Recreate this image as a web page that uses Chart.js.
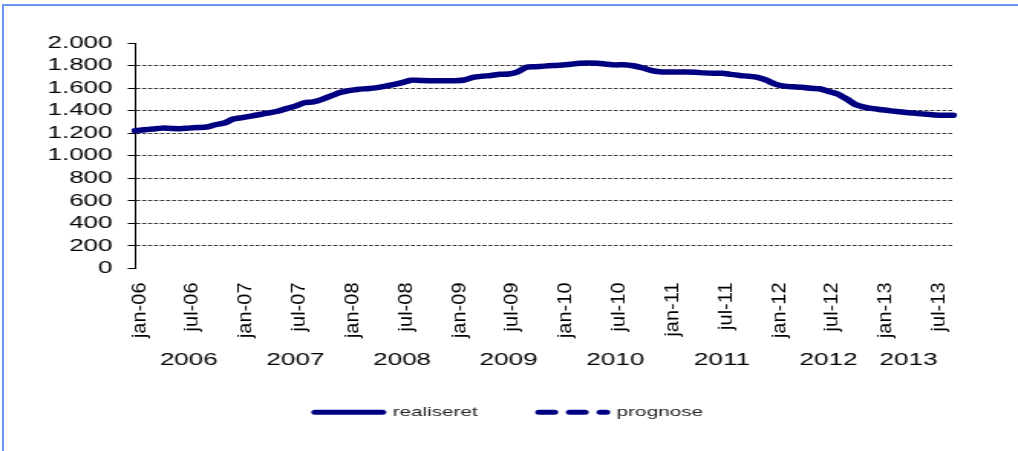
<!DOCTYPE html>
<html lang="da">
<head>
<meta charset="UTF-8">
<title>realiseret / prognose</title>
<script src="https://cdn.jsdelivr.net/npm/chart.js"></script>
<style>
  body { margin: 0; background: #fff; overflow: hidden; }
  #frame { position: absolute; left: 2px; top: 4px; width: 1100px; height: 500px;
           border-left: 2px solid #6798f0; border-top: 2px solid #6798f0; }
  #chart { position: absolute; left: 0; top: 0; }
</style>
</head>
<body>
<div id="frame"></div>
<!-- the original picture is stretched sideways, so the canvas is drawn narrow and widened by css -->
<canvas id="chart" width="665" height="451" style="width:1018px;height:451px"></canvas>

<script>
  const years = ['2006', '2007', '2008', '2009', '2010', '2011', '2012', '2013'];
  const monthNames = ['jan', 'feb', 'mar', 'apr', 'maj', 'jun', 'jul', 'aug', 'sep', 'okt', 'nov', 'dec'];

  // monthly categories jan-06 .. sep-13
  const categories = [];
  years.forEach(y => monthNames.forEach(m => categories.push(m + '-' + y.slice(2))));
  categories.length = 93;

  // where the year names sit under the month labels
  const yearAt = ['jul-06', 'jul-07', 'jul-08', 'jul-09', 'jul-10', 'jul-11', 'jul-12', 'apr-13'];

  const realiseret = [
    1222, 1230, 1238, 1245, 1242, 1240, 1245, 1250, 1255, 1275, 1290, 1325,
    1338, 1352, 1366, 1380, 1395, 1418, 1440, 1470, 1478, 1500, 1530, 1560,
    1578, 1588, 1595, 1602, 1615, 1630, 1648, 1670, 1668, 1666, 1666, 1666,
    1666, 1672, 1695, 1705, 1712, 1722, 1725, 1745, 1785, 1790, 1795, 1800,
    1805, 1812, 1820, 1822, 1820, 1812, 1806, 1808, 1798, 1780, 1758, 1745,
    1742, 1742, 1742, 1740, 1735, 1732, 1732, 1722, 1712, 1705, 1695, 1670,
    1635, 1618, 1612, 1608, 1598, 1594, 1570, 1548, 1505, 1455, 1432, 1418,
    1408, 1398, 1390, 1382, 1375, 1368, 1362, 1360, 1360
  ];
  const prognose = categories.map(() => null);

  const S = 1018 / 665;   // sideways stretch of the canvas
  const NAVY = '#000080';
  const FONT = "'Liberation Sans', Arial, sans-serif";

  function fmt(v) {
    if (v < 1000) return String(v);
    return Math.floor(v / 1000) + '.' + String(v % 1000).padStart(3, '0');
  }

  // month labels are upright text in the picture, so undo the stretch for them
  const monthLabels = {
    id: 'monthLabels',
    afterDraw(chart) {
      const xs = chart.scales.x;
      const ctx = chart.ctx;
      categories.forEach((c, i) => {
        if (!c.startsWith('jan') && !c.startsWith('jul')) return;
        const x = xs.getPixelForValue(i);
        ctx.save();
        ctx.translate(x + 2.5, xs.top + 14);
        ctx.rotate(-Math.PI / 2);
        ctx.scale(1, 1 / S);
        ctx.font = '20px ' + FONT;
        ctx.fillStyle = '#000';
        ctx.textAlign = 'right';
        ctx.textBaseline = 'middle';
        ctx.fillText(c, 0, 0);
        ctx.restore();
      });
    }
  };

  new Chart(document.getElementById('chart'), {
    type: 'line',
    data: {
      labels: categories,
      datasets: [
        {
          label: 'realiseret',
          data: realiseret,
          borderColor: NAVY,
          backgroundColor: NAVY,
          borderWidth: 5.5,
          borderCapStyle: 'round',
          borderJoinStyle: 'round',
          pointRadius: 0,
          tension: 0.25
        },
        {
          label: 'prognose',
          data: prognose,
          borderColor: NAVY,
          backgroundColor: NAVY,
          borderWidth: 5.5,
          borderDash: [10, 10],
          borderCapStyle: 'round',
          pointRadius: 0
        }
      ]
    },
    options: {
      responsive: false,
      animation: false,
      layout: { padding: { top: 43, right: 0, left: 0, bottom: 22 } },
      plugins: {
        tooltip: { enabled: false },
        legend: {
          position: 'bottom',
          labels: {
            usePointStyle: true,
            pointStyleWidth: 44,
            padding: 40,
            color: '#222',
            font: { family: FONT, size: 13.5 },
            generateLabels(chart) {
              return chart.data.datasets.map((ds, i) => ({
                text: ds.label,
                datasetIndex: i,
                pointStyle: 'line',
                strokeStyle: ds.borderColor,
                fillStyle: ds.borderColor,
                lineWidth: 5,
                lineCap: 'round',
                lineDash: ds.borderDash || [],
                fontColor: '#222'
              }));
            }
          }
        }
      },
      scales: {
        x: {
          type: 'category',
          weight: 0,
          grid: { display: false },
          border: { display: false },
          ticks: { display: false },
          afterFit(scale) { scale.height = 70; }
        },
        x2: {
          type: 'category',
          position: 'bottom',
          weight: 1,
          grid: { display: false, drawTicks: false },
          border: { display: false },
          ticks: {
            autoSkip: false,
            maxRotation: 0,
            minRotation: 0,
            padding: 12,
            color: '#000',
            font: { family: FONT, size: 17 },
            callback(value) {
              const k = yearAt.indexOf(categories[value]);
              return k >= 0 ? years[k] : '';
            }
          },
          afterFit(scale) { scale.height = 27; }
        },
        y: {
          min: 0,
          max: 2000,
          ticks: {
            stepSize: 200,
            autoSkip: false,
            padding: 10,
            color: '#000',
            font: { family: FONT, size: 17 },
            callback: v => fmt(v)
          },
          grid: {
            color: c => (c.tick.value === 0 || c.tick.value === 2000) ? 'rgba(0,0,0,0)' : '#333',
            lineWidth: 1,
            tickColor: '#000',
            tickLength: 5
          },
          border: { display: true, color: '#000', width: 1, dash: [2.6, 1.3] },
          afterFit(scale) { scale.width = 88.5; }
        },
        // empty strip on the right so the legend stays centred on the whole canvas
        yRight: {
          type: 'linear',
          position: 'right',
          grid: { display: false },
          border: { display: false },
          ticks: { display: false },
          afterFit(scale) { scale.width = 42.5; }
        }
      }
    },
    plugins: [monthLabels]
  });
</script>
</body>
</html>
